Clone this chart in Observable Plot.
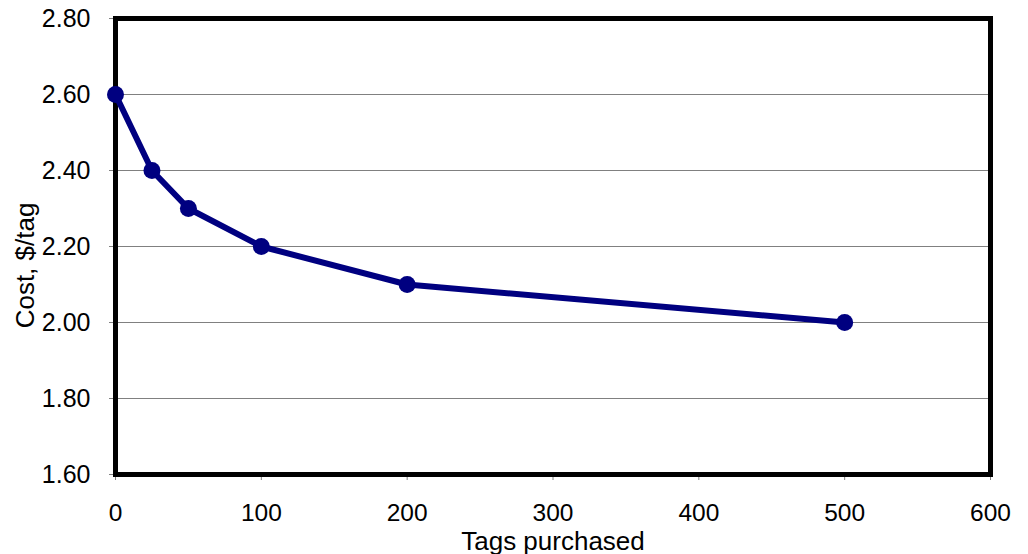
<!DOCTYPE html>
<html><head><meta charset="utf-8">
<script src="https://cdn.jsdelivr.net/npm/d3@7"></script>
<script src="https://cdn.jsdelivr.net/npm/@observablehq/plot@0.6"></script>
<style>body{margin:0;background:#fff;} svg{display:block;}</style>
</head><body><div id="chart"></div>
<script>
const tags = [0, 25, 50, 100, 200, 500];
const cost = [2.6, 2.4, 2.3, 2.2, 2.1, 2.0];
const xTicks = [0, 100, 200, 300, 400, 500, 600];
const yTicks = [1.6, 1.8, 2.0, 2.2, 2.4, 2.6, 2.8];
const xTitle = "Tags purchased";
const yTitle = "Cost, $/tag";
const data = tags.map((t, i) => ({tags: t, cost: cost[i]}));

const chart = Plot.plot({
  width: 1028, height: 554,
  marginLeft: 115, marginRight: 38, marginTop: 18, marginBottom: 80,
  style: {fontFamily: "Liberation Sans, Arial, sans-serif", fontSize: "25px", color: "#000", background: "#fff"},
  x: {domain: [0, 600]},
  y: {domain: [1.6, 2.8]},
  marks: [
    Plot.gridY(yTicks.slice(1, -1), {stroke: "#808080", strokeOpacity: 1, strokeWidth: 1}),
    Plot.axisX(xTicks, {tickSize: 6, stroke: "#808080", tickPadding: 23, fontSize: 24.5, label: null}),
    Plot.axisY(yTicks, {tickSize: 6, stroke: "#808080", tickPadding: 19, fontSize: 25, tickFormat: d3.format(".2f"), label: null}),
    Plot.frame({stroke: "#000", strokeWidth: 5}),
    Plot.line(data, {x: "tags", y: "cost", stroke: "#000080", strokeWidth: 6}),
    Plot.dot(data, {x: "tags", y: "cost", fill: "#000080", r: 8.5}),
    Plot.text([xTitle], {frameAnchor: "bottom", dy: 75, fontSize: 26, text: d => d}),
    Plot.text([yTitle], {frameAnchor: "left", textAnchor: "middle", dx: -90, dy: 19, rotate: -90, fontSize: 26, text: d => d})
  ]
});
document.getElementById("chart").appendChild(chart);
</script></body></html>
